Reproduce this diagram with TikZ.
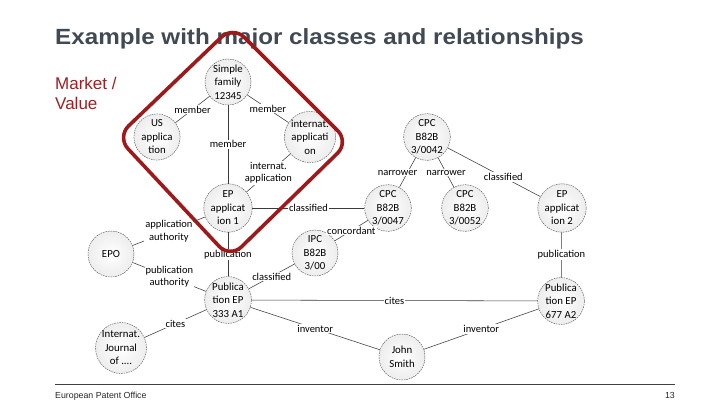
\documentclass[tikz,border=0pt]{standalone}
\usepackage{fontspec}
\setmainfont{Liberation Sans}
\newfontfamily\nodefont{Carlito}
\newfontfamily\titlefont[FakeStretch=1.1]{Liberation Sans}
\definecolor{titlegray}{HTML}{414A53}
\definecolor{mkred}{HTML}{A01E22}
\definecolor{diared}{HTML}{9E1A1A}
\definecolor{edgegray}{HTML}{3A3A3A}
\begin{document}
\begin{tikzpicture}[x=1pt,y=-1pt,
  ent/.style={circle, draw=black!65, dash pattern=on 1.6pt off 0.9pt, line width=0.45pt,
    inner color=white, outer color=gray!14, minimum size=46pt, inner sep=0pt,
    align=center, font=\nodefont\fontsize{10.8}{13.5}\selectfont},
  rel/.style={draw=edgegray, line width=0.55pt},
  lab/.style={fill=white, inner sep=1pt, align=center, font=\nodefont\fontsize{10.5}{12.5}\selectfont}]
\useasboundingbox (0,0) rectangle (720,405);
% title
\node[anchor=base west, inner sep=0, text=titlegray, font=\titlefont\bfseries\fontsize{22}{24}\selectfont] (title) at (55,44) {Example with major classes and relationships};
\node[anchor=north west, inner sep=0, text=mkred, align=left, font=\fontsize{17}{20}\selectfont] (market) at (55,77) {Market /\\Value};
% nodes
\node[ent] (sf) at (228,82) {Simple\\family\\12345};
\node[ent] (us) at (157,137) {US\\applica\\tion};
\node[ent] (ia) at (310,137) {internat.\\applicati\\on};
\node[ent] (ep1) at (228,208) {EP\\applicat\\ion 1};
\node[ent] (epo) at (111,254) {EPO};
\node[ent] (p333) at (228,300) {Publica\\tion EP\\333 A1};
\node[ent] (ij) at (121,348) {Internat.\\Journal\\of ....};
\node[ent] (c42) at (427,137) {CPC\\B82B\\3/0042};
\node[ent] (c47) at (388,208) {CPC\\B82B\\3/0047};
\node[ent] (c52) at (465,208) {CPC\\B82B\\3/0052};
\node[ent] (ep2) at (562,208) {EP\\applicat\\ion 2};
\node[ent] (ipc) at (315,253) {IPC\\B82B\\3/00};
\node[ent] (p677) at (561,301) {Publica\\tion EP\\677 A2};
\node[ent] (js) at (402,357) {John\\Smith};
% relations
\draw[rel] (sf) -- node[lab] {member} (us);
\draw[rel] (sf) -- node[lab] {member} (ia);
\draw[rel] (sf) -- node[lab] {member} (ep1);
\draw[rel] (ia) -- node[lab] {internat.\\application} (ep1);
\draw[rel] (epo) -- node[lab] {application\\authority} (ep1);
\draw[rel] (epo) -- node[lab] {publication\\authority} (p333);
\draw[rel] (ep1) -- node[lab] {publication} (p333);
\draw[rel] (ep1) -- node[lab] {classified} (c47);
\draw[rel] (p333) -- node[lab] {classified} (ipc);
\draw[rel] (ipc) -- node[lab] {concordant} (c47);
\draw[rel] (c42) -- node[lab, xshift=-10pt] {narrower} (c47);
\draw[rel] (c42) -- node[lab] {narrower} (c52);
\draw[rel] (c42) -- node[lab, pos=0.6] {classified} (ep2);
\draw[rel] (ep2) -- node[lab] {publication} (p677);
\draw[rel] (p333) -- node[lab] {cites} (p677);
\draw[rel] (p333) -- node[lab] {inventor} (js);
\draw[rel] (js) -- node[lab] {inventor} (p677);
\draw[rel] (p333) -- node[lab] {cites} (ij);
% red highlight
\coordinate (dt) at (233,26);
\coordinate (dl) at (117,137);
\coordinate (db) at (230,258);
\coordinate (dr) at (349,142);
\draw[diared, line width=3.6pt, rounded corners=16pt, line join=round] (dt) -- (dl) -- (db) -- (dr) -- cycle;
% footer
\coordinate (fl) at (55,384);
\coordinate (fr) at (675,384);
\draw[black!75, line width=0.9pt] (fl) -- (fr);
\node[anchor=base west, inner sep=0, font=\fontsize{8.8}{10}\selectfont, text=black!85] (eop) at (55,398) {European Patent Office};
\node[anchor=base east, inner sep=0, font=\fontsize{8.8}{10}\selectfont, text=black!85] (pg) at (675,398) {13};
\end{tikzpicture}
\end{document}
